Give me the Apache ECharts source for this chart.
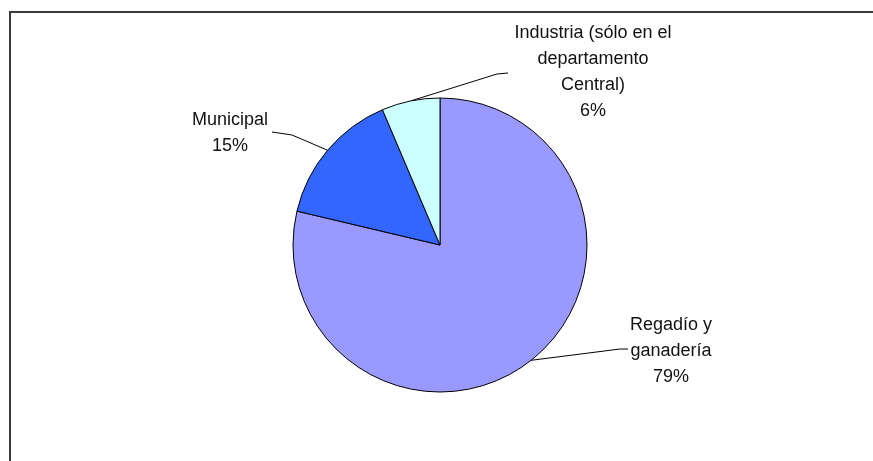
<!DOCTYPE html>
<html>
<head>
<meta charset="utf-8">
<script src="https://cdn.jsdelivr.net/npm/echarts@6/dist/echarts.min.js"></script>
<style>html,body{margin:0;padding:0;background:#fff;}#c{width:873px;height:461px;}</style>
</head>
<body>
<div id="c"></div>
<script>
const categories = ['Regadío y\nganadería', 'Municipal', 'Industria (sólo en el\ndepartamento\nCentral)'];
const values = [78.7, 14.9, 6.4];
const colors = ['#9999FF', '#3366FF', '#CCFFFF'];

// label anchor placement (layout only)
const labelPlace = [
  { x: 671, y: 351, bend: [620, 349], end: [628, 349] },
  { x: 230, y: 133, bend: [292, 135], end: [272, 132] },
  { x: 593, y: 72, bend: [497, 74], end: [508, 73] }
];

const chart = echarts.init(document.getElementById('c'), null, { renderer: 'canvas' });
chart.setOption({
  animation: false,
  backgroundColor: '#fff',
  graphic: [{
    type: 'rect',
    shape: { x: 10, y: 12, width: 900, height: 500 },
    style: { fill: 'none', stroke: '#3a3a3a', lineWidth: 2 },
    silent: true
  }],
  series: [{
    type: 'pie',
    center: [440, 245],
    radius: 147,
    startAngle: 90,
    clockwise: true,
    data: categories.map((n, i) => ({ name: n, value: values[i], itemStyle: { color: colors[i] } })),
    itemStyle: { borderColor: '#000', borderWidth: 1 },
    label: {
      show: true,
      position: 'outside',
      formatter: p => p.name + '\n' + Math.round(p.value) + '%',
      fontFamily: 'Liberation Sans, Arial, sans-serif',
      fontSize: 18,
      lineHeight: 26,
      color: '#111',
      align: 'center'
    },
    labelLine: { show: true, lineStyle: { color: '#000', width: 1 } },
    labelLayout: function (params) {
      const lp = labelPlace[params.dataIndex];
      const pts = params.labelLinePoints;
      const start = pts ? pts[0] : lp.bend;
      return {
        x: lp.x,
        y: lp.y,
        align: 'center',
        verticalAlign: 'middle',
        labelLinePoints: [start, lp.bend, lp.end]
      };
    },
    emphasis: { disabled: true }
  }]
});
</script>
</body>
</html>
